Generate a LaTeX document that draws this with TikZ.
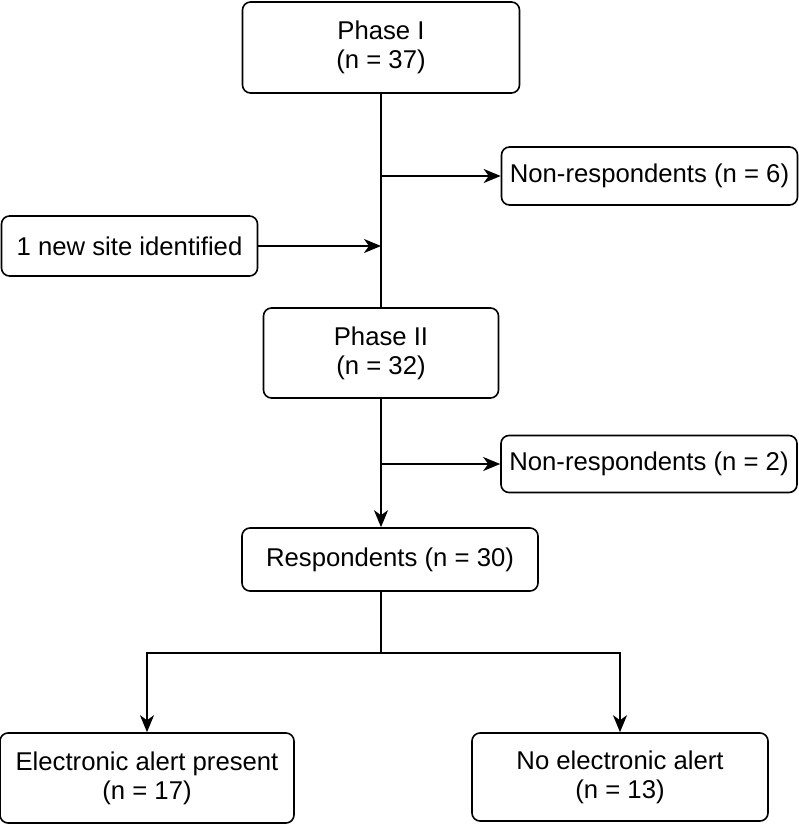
\documentclass[tikz,border=0pt]{standalone}
\usepackage{fontspec}
\setmainfont{Liberation Sans}
\usetikzlibrary{shapes,arrows.meta,positioning,calc}

\begin{document}
\begin{tikzpicture}[x=1pt, y=1pt,
    box/.style={rectangle, draw, rounded corners=8pt, line width=1.6pt, align=center, inner sep=0pt, font=\fontsize{25.7}{29}\selectfont},
    conn/.style={draw, line width=1.8pt},
    arrow/.style={conn, -{Stealth[length=17pt, width=14pt, inset=5pt]}}]
    \useasboundingbox (0,0) rectangle (799,-825);

    \node[box, minimum width=277pt, minimum height=91pt] (phase1) at (381,-47.5) {Phase I\\(n = 37)};
    \node[box, minimum width=296pt, minimum height=58pt] (nonresp1) at (649.5,-176) {Non-respondents (n = 6)};
    \node[box, minimum width=256pt, minimum height=60pt] (newsite) at (129.5,-246) {1 new site identified};
    \node[box, minimum width=235pt, minimum height=90pt] (phase2) at (381,-353) {Phase II\\(n = 32)};
    \node[box, minimum width=296pt, minimum height=57pt] (nonresp2) at (649,-464) {Non-respondents (n = 2)};
    \node[box, minimum width=296pt, minimum height=63pt] (resp) at (390,-559.5) {Respondents (n = 30)};
    \node[box, minimum width=294pt, minimum height=90pt] (alert) at (147,-778) {Electronic alert present\\(n = 17)};
    \node[box, minimum width=296pt, minimum height=88pt] (noalert) at (620,-777) {No electronic alert\\(n = 13)};

    \coordinate (split1) at (phase1.south |- nonresp1.west);
    \coordinate (merge) at (phase1.south |- newsite.east);
    \coordinate (split2) at (phase2.south |- nonresp2.west);
    \coordinate (fork) at ($(phase2.south |- resp.south) + (0,-61)$);

    \draw[conn] (phase1) -- (phase2);
    \draw[arrow] (split1) -- (nonresp1);
    \draw[arrow] (newsite) -- (merge);
    \draw[arrow] (phase2) -- (phase2.south |- resp.north);
    \draw[arrow] (split2) -- (nonresp2);
    \draw[conn] (phase2.south |- resp.south) -- (fork);
    \draw[arrow] (fork) -| (alert.north);
    \draw[arrow] (fork) -| (noalert.north);
\end{tikzpicture}
\end{document}
